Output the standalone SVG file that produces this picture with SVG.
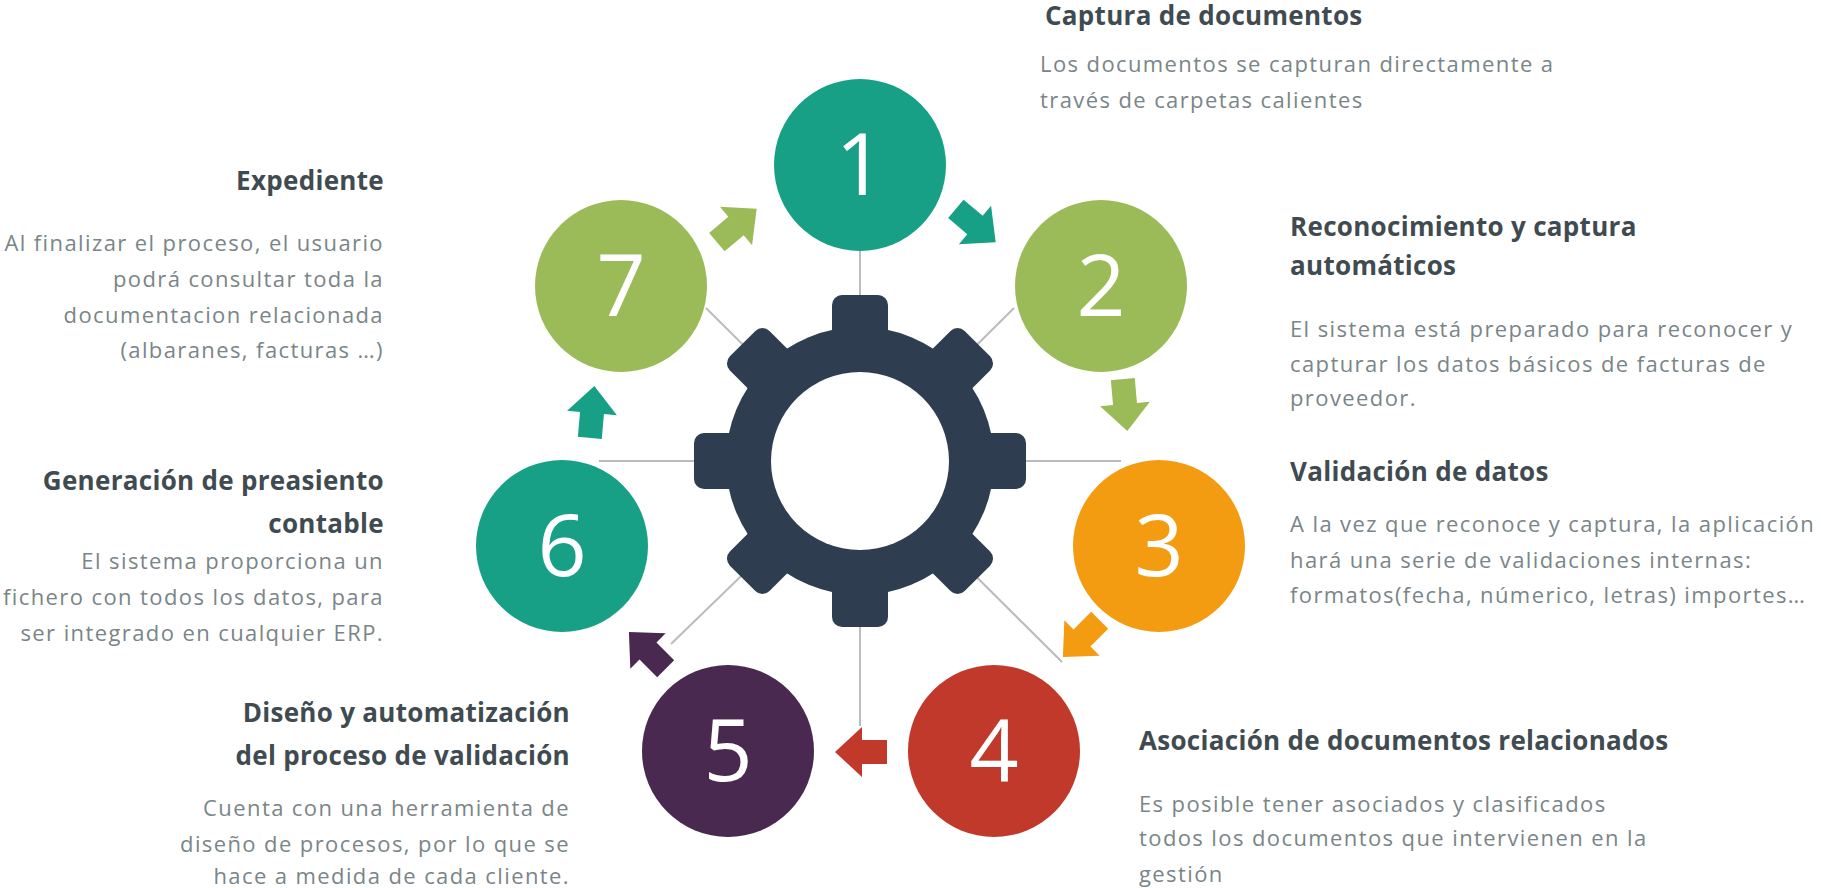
<svg xmlns="http://www.w3.org/2000/svg" width="1821" height="888" viewBox="0 0 1821 888">
<style>
.h{font-family:"Open Sans","Liberation Sans",sans-serif;font-weight:bold;font-size:26px;letter-spacing:0.3px;fill:#3f4b50}
.b{font-family:"Open Sans","Liberation Sans",sans-serif;font-size:22px;letter-spacing:1.4px;fill:#7a8588}
.n{font-family:"Open Sans","Liberation Sans",sans-serif;font-size:86px;fill:#fff;text-anchor:middle}
.r{text-anchor:end}
.t{fill:#2e3e50}
</style>
<defs>
<path id="arr" d="M-25,-12 H0 V-25 L27,0 L0,25 V12 H-25 Z"/>
<rect id="tooth" x="-28" y="-166" width="56" height="70" rx="10" fill="#2e3e50"/>
</defs>
<g id="connectors" stroke="#bbbbbb" stroke-width="2">
<line x1="860" y1="461" x2="860" y2="250"/>
<line x1="860" y1="461" x2="860" y2="726"/>
<line x1="860" y1="461" x2="1121" y2="461"/>
<line x1="860" y1="461" x2="599" y2="461"/>
<line x1="860" y1="461" x2="1014" y2="308"/>
<line x1="860" y1="461" x2="706" y2="308"/>
<line x1="860" y1="461" x2="1062" y2="662"/>
<line x1="860" y1="461" x2="671" y2="644"/>
</g>
<g id="gear" transform="translate(860,461)">
<circle r="134" fill="#2e3e50"/>
<use href="#tooth"/>
<use href="#tooth" transform="rotate(45)"/>
<use href="#tooth" transform="rotate(90)"/>
<use href="#tooth" transform="rotate(135)"/>
<use href="#tooth" transform="rotate(180)"/>
<use href="#tooth" transform="rotate(225)"/>
<use href="#tooth" transform="rotate(270)"/>
<use href="#tooth" transform="rotate(315)"/>
<circle r="89" fill="#fff"/>
</g>
<g id="arrows">
<use href="#arr" fill="#17a085" transform="translate(975,225) rotate(40)"/>
<use href="#arr" fill="#9bbb59" transform="translate(1125,404) rotate(85)"/>
<use href="#arr" fill="#f39c12" transform="translate(1082,638) rotate(135)"/>
<use href="#arr" fill="#c0392b" transform="translate(862,752) rotate(180)"/>
<use href="#arr" fill="#4a2950" transform="translate(648,651) rotate(-135)"/>
<use href="#arr" fill="#17a085" transform="translate(592,413) rotate(-85)"/>
<use href="#arr" fill="#9bbb59" transform="translate(736,226) rotate(-40)"/>
</g>
<g id="n1"><circle cx="860" cy="165" r="86" fill="#17a085"/><text class="n" x="860" y="195">1</text>
<text class="h" x="1045" y="25">Captura de documentos</text>
<text class="b" x="1040" y="72">Los documentos se capturan directamente a</text>
<text class="b" x="1040" y="108">través de carpetas calientes</text></g>
<g id="n2"><circle cx="1101" cy="286" r="86" fill="#9bbb59"/><text class="n" x="1101" y="316">2</text>
<text class="h" x="1290" y="236">Reconocimiento y captura</text>
<text class="h" x="1290" y="275">automáticos</text>
<text class="b" x="1290" y="337">El sistema está preparado para reconocer y</text>
<text class="b" x="1290" y="372">capturar los datos básicos de  facturas de</text>
<text class="b" x="1290" y="406">proveedor.</text></g>
<g id="n3"><circle cx="1159" cy="546" r="86" fill="#f39c12"/><text class="n" x="1159" y="576">3</text>
<text class="h" x="1290" y="481">Validación de datos</text>
<text class="b" x="1290" y="532">A la vez que reconoce y captura, la aplicación</text>
<text class="b" x="1290" y="568">hará una serie de validaciones internas:</text>
<text class="b" x="1290" y="603">formatos(fecha, númerico, letras) importes…</text></g>
<g id="n4"><circle cx="994" cy="751" r="86" fill="#c0392b"/><text class="n" x="994" y="781">4</text>
<text class="h" x="1139" y="750">Asociación de documentos relacionados</text>
<text class="b" x="1139" y="812">Es posible tener asociados y clasificados</text>
<text class="b" x="1139" y="846">todos los documentos que intervienen en la</text>
<text class="b" x="1139" y="882">gestión</text></g>
<g id="n5"><circle cx="728" cy="751" r="86" fill="#4a2950"/><text class="n" x="728" y="781">5</text>
<text class="h r" x="570" y="722">Diseño  y automatización</text>
<text class="h r" x="570" y="765">del proceso de validación</text>
<text class="b r" x="570" y="816">Cuenta con una herramienta de</text>
<text class="b r" x="570" y="852">diseño de procesos, por lo que se</text>
<text class="b r" x="570" y="884">hace a medida de cada cliente.</text></g>
<g id="n6"><circle cx="562" cy="546" r="86" fill="#17a085"/><text class="n" x="562" y="576">6</text>
<text class="h r" x="384" y="490">Generación de preasiento</text>
<text class="h r" x="384" y="533">contable</text>
<text class="b r" x="384" y="569">El sistema proporciona un</text>
<text class="b r" x="384" y="605">fichero con todos los datos, para</text>
<text class="b r" x="384" y="641">ser integrado en cualquier ERP.</text></g>
<g id="n7"><circle cx="621" cy="286" r="86" fill="#9bbb59"/><text class="n" x="621" y="316">7</text>
<text class="h r" x="384" y="190">Expediente</text>
<text class="b r" x="384" y="251">Al finalizar el proceso, el usuario</text>
<text class="b r" x="384" y="287">podrá consultar toda la</text>
<text class="b r" x="384" y="323">documentacion relacionada</text>
<text class="b r" x="384" y="358">(albaranes, facturas …)</text></g>
</svg>
